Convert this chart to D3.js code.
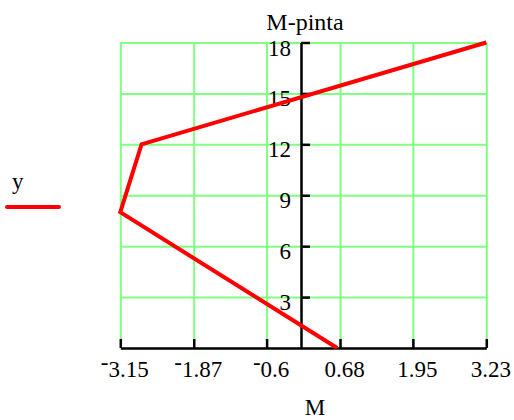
<!DOCTYPE html>
<html>
<head>
<meta charset="utf-8">
<script src="https://cdn.jsdelivr.net/npm/d3@7"></script>
<style>
  body { margin: 0; background: white; }
  svg text { font-family: "Liberation Serif", "Times New Roman", serif; fill: #000; }
</style>
</head>
<body>
<svg id="chart" width="514" height="420"></svg>
<script>
// data
var mValues = [0.63, -3.15, -2.78, 3.23];
var yValues = [0, 8, 12, 18];
var xTicks = [-3.15, -1.87, -0.6, 0.68, 1.95, 3.23];
var yTicks = [3, 6, 9, 12, 15, 18];
var titleText = "M-pinta";
var xLabel = "M";
var legendLabel = "y";

var svg = d3.select("svg#chart");

var x = d3.scaleLinear().domain([-3.15, 3.23]).range([120.3, 486.3]);
var y = d3.scaleLinear().domain([0, 18]).range([348, 42.5]);

var gridColor = "#80ff80";
var fontSize = "23px";

// vertical grid
svg.append("g")
  .attr("transform", "translate(0," + y(0) + ")")
  .call(d3.axisBottom(x).tickValues(xTicks).tickSize(-(y(0) - y(18))).tickFormat(""))
  .call(function(g) {
    g.select(".domain").remove();
    g.selectAll("line").attr("stroke", gridColor).attr("stroke-width", 2);
  });

// horizontal grid
svg.append("g")
  .attr("transform", "translate(" + x(-3.15) + ",0)")
  .call(d3.axisLeft(y).tickValues(yTicks).tickSize(-(x(3.23) - x(-3.15))).tickFormat(""))
  .call(function(g) {
    g.select(".domain").remove();
    g.selectAll("line").attr("stroke", gridColor).attr("stroke-width", 2);
  });

// x axis (ticks pointing up)
var xAxisG = svg.append("g")
  .attr("transform", "translate(0," + y(0) + ")")
  .call(d3.axisBottom(x).tickValues(xTicks).tickSizeInner(-9).tickSizeOuter(0).tickFormat(""));

xAxisG.select(".domain").attr("stroke", "#000").attr("stroke-width", 2.5);
xAxisG.selectAll("line").attr("stroke", "#000").attr("stroke-width", 2.5);

// Mathcad writes negatives with a raised minus, so build the labels by hand
xAxisG.selectAll(".tick text").each(function(d) {
  var t = d3.select(this)
    .attr("y", 29)
    .attr("dy", null)
    .attr("x", 4)
    .attr("fill", "#000")
    .style("font-size", fontSize)
    .style("font-family", "Liberation Serif, serif")
    .text(null);
  if (d < 0) {
    t.append("tspan").attr("dy", "-0.3em").text("-");
    t.append("tspan").attr("dy", "0.3em").text(String(Math.abs(d)));
  } else {
    t.append("tspan").text(String(d));
  }
});

// y axis through M = 0, ticks to the right, labels on the left
svg.append("g")
  .attr("transform", "translate(" + x(0) + ",0)")
  .call(d3.axisRight(y).tickValues(yTicks).tickSizeInner(9).tickSizeOuter(0))
  .call(function(g) {
    g.select(".domain").attr("stroke", "#000").attr("stroke-width", 2.5);
    g.selectAll("line").attr("stroke", "#000").attr("stroke-width", 2.5);
    g.selectAll("text")
      .attr("x", -10)
      .attr("y", 12.5)
      .attr("dy", null)
      .attr("text-anchor", "end")
      .attr("fill", "#000")
      .style("font-size", fontSize)
      .style("font-family", "Liberation Serif, serif");
  });

// the trace
var line = d3.line()
  .x(function(d, i) { return x(mValues[i]); })
  .y(function(d, i) { return y(yValues[i]); });

svg.append("path")
  .datum(mValues)
  .attr("d", line)
  .attr("fill", "none")
  .attr("stroke", "#ff0000")
  .attr("stroke-width", 4)
  .attr("stroke-linejoin", "miter");

// title and axis label
svg.append("text")
  .attr("x", 305)
  .attr("y", 30)
  .attr("text-anchor", "middle")
  .style("font-size", "24px")
  .text(titleText);

svg.append("text")
  .attr("x", 315)
  .attr("y", 415)
  .attr("text-anchor", "middle")
  .style("font-size", fontSize)
  .text(xLabel);

// legend
svg.append("text")
  .attr("x", 12)
  .attr("y", 189)
  .style("font-size", fontSize)
  .text(legendLabel);

svg.append("line")
  .attr("x1", 7).attr("x2", 59)
  .attr("y1", 207).attr("y2", 207)
  .attr("stroke", "#ff0000")
  .attr("stroke-width", 4)
  .attr("stroke-linecap", "round");
</script>
</body>
</html>
